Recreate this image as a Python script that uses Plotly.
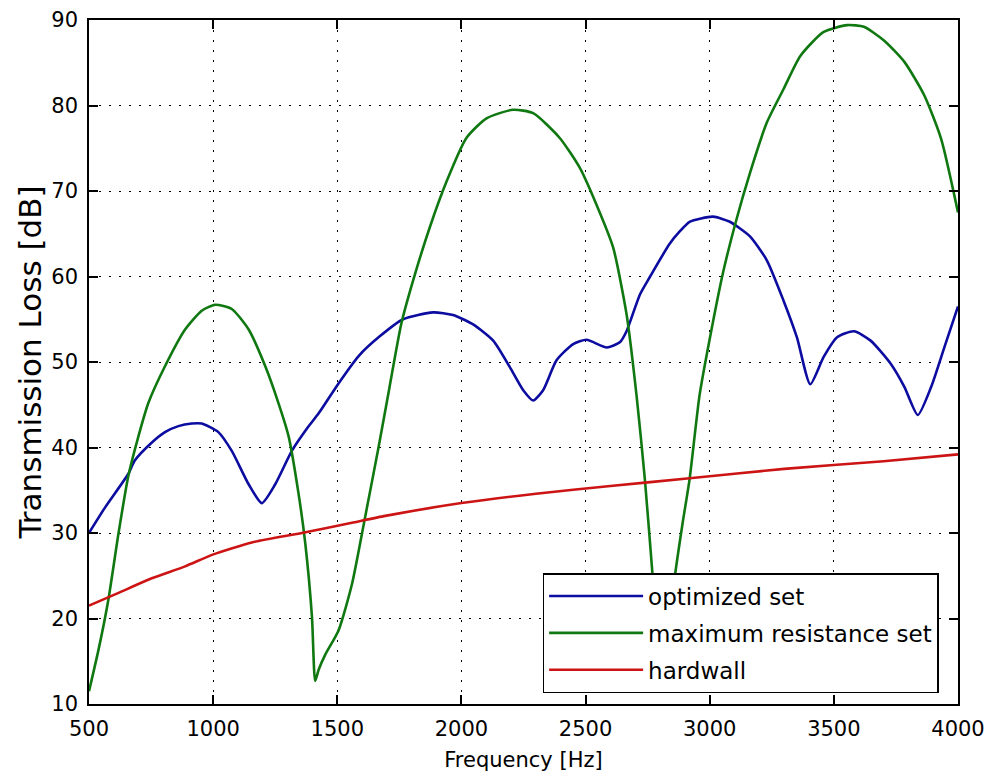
import plotly.graph_objects as go

# ---- data ----
opt_f = [500, 565, 658, 685, 750, 806, 860, 914, 954, 1021, 1075, 1143, 1196, 1250, 1317, 1380,
         1425, 1505, 1586, 1671, 1765, 1886, 1966, 2047, 2128, 2195, 2249, 2289, 2329, 2383, 2450,
         2504, 2585, 2638, 2665, 2719, 2760, 2838, 2880, 2919, 3013, 3081, 3162, 3230, 3297, 3351,
         3405, 3459, 3513, 3581, 3648, 3729, 3784, 3838, 3892, 3946, 4000]
opt_tl = [30, 33, 36.9, 38.5, 40.5, 41.8, 42.5, 42.8, 42.8, 41.8, 39.6, 35.7, 33.5, 35.7, 39.6, 42.3,
          44, 47.5, 50.7, 53, 55, 55.8, 55.5, 54.4, 52.5, 49.4, 46.7, 45.5, 46.7, 50.2, 52.1,
          52.6, 51.7, 52.3, 53.6, 57.9, 60, 63.8, 65.3, 66.4, 67, 66.4, 64.7, 61.9, 57.2, 52.9,
          47.4, 50.6, 52.9, 53.6, 52.5, 49.8, 47.1, 43.8, 47.1, 51.8, 56.5]

max_f = [500, 538, 578, 619, 658, 699, 739, 806, 887, 954, 1008, 1075, 1143, 1210, 1263, 1304,
         1344, 1371, 1398, 1411, 1425, 1452, 1505, 1559, 1613, 1666, 1710, 1758, 1805, 1872, 1940,
         2020, 2101, 2208, 2289, 2396, 2477, 2544, 2611, 2665, 2706, 2739, 2770, 2790, 2805, 2825,
         2860, 2890, 2919, 2959, 3000, 3054, 3108, 3162, 3230, 3297, 3365, 3459, 3554, 3621, 3702,
         3784, 3864, 3932, 4000]
max_tl = [11.5, 16.3, 22.2, 30, 36.6, 41.3, 45.2, 49.5, 53.8, 56, 56.7, 56.2, 53.8, 49.5, 45.2, 41.3,
          34.6, 28.8, 20.2, 12.7, 14, 15.8, 18.6, 24, 32, 40, 47, 54.5, 59.5, 65.7, 71.1,
          76.2, 78.5, 79.5, 79.1, 76.2, 72.7, 68.4, 63.4, 55.6, 45.9, 36.2, 25, 17, 12.5, 15,
          25, 31, 36.3, 46.1, 52.7, 60.5, 66.7, 72.1, 78, 81.9, 85.8, 88.6, 89.4, 89.2, 87.6,
          85.1, 81.2, 76.1, 67.5]

hw_f = [500, 619, 753, 887, 1001, 1156, 1357, 1559, 1693, 2000, 2300, 2600, 2919, 3300, 3700, 4000]
hw_tl = [21.5, 23, 24.7, 26.1, 27.5, 28.9, 30, 31.2, 32, 33.5, 34.6, 35.5, 36.4, 37.5, 38.4, 39.2]

x_ticks = [500, 1000, 1500, 2000, 2500, 3000, 3500, 4000]
y_ticks = [10, 20, 30, 40, 50, 60, 70, 80, 90]

FONT = "DejaVu Sans"

fig = go.Figure()
fig.add_trace(go.Scatter(x=opt_f, y=opt_tl, mode="lines", name="optimized set",
                         legendgroup="a",
                         line=dict(color="#0c0ca0", width=2.6, shape="spline", smoothing=0.6)))
fig.add_trace(go.Scatter(x=max_f, y=max_tl, mode="lines", name="maximum resistance set",
                         legendgroup="b",
                         line=dict(color="#107810", width=2.6, shape="spline", smoothing=0.6)))
fig.add_trace(go.Scatter(x=hw_f, y=hw_tl, mode="lines", name="hardwall",
                         legendgroup="c",
                         line=dict(color="#cc1414", width=2.6, shape="spline", smoothing=0.5)))

axis_common = dict(
    showline=True, linecolor="black", linewidth=1.5, mirror="ticks",
    ticks="inside", ticklen=9, tickwidth=1.5, tickcolor="black",
    showgrid=True, gridcolor="black", gridwidth=1, griddash="2px,8px",
    zeroline=False, tickfont=dict(family=FONT, size=21, color="black"),
    ticklabelstandoff=5, automargin=False,
)

fig.update_layout(
    width=987, height=778,
    margin=dict(l=89, r=29, t=20, b=74, autoexpand=False),
    paper_bgcolor="white", plot_bgcolor="white",
    font=dict(family=FONT, color="black"),
    xaxis=dict(range=[500, 4000], tickvals=x_ticks, ticktext=[str(v) for v in x_ticks],
               title=dict(text="Frequency [Hz]", font=dict(family=FONT, size=21), standoff=12),
               **axis_common),
    yaxis=dict(range=[10, 90], tickvals=y_ticks, ticktext=[str(v) for v in y_ticks],
               title=dict(text="Transmission Loss [dB]", font=dict(family=FONT, size=31), standoff=0),
               **axis_common),
    legend=dict(x=0.522, y=0.1915, xanchor="left", yanchor="top",
                bgcolor="white", bordercolor="black", borderwidth=1.5,
                font=dict(family=FONT, size=23, color="black"),
                traceorder="grouped", tracegroupgap=4, itemwidth=94),
    showlegend=True,
)

fig.write_html("out.html")
